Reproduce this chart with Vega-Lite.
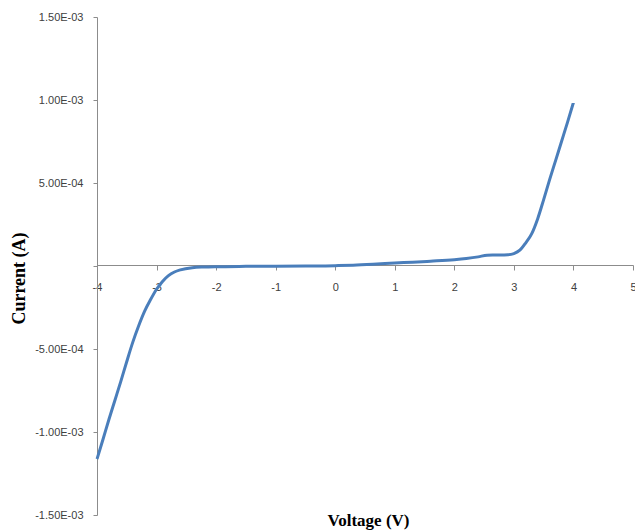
{
  "$schema": "https://vega.github.io/schema/vega-lite/v6.json",
  "width": 536,
  "height": 498,
  "autosize": "none",
  "padding": {"left": 97, "top": 17, "right": 2, "bottom": 15},
  "background": "white",
  "config": {"view": {"stroke": null}},
  "data": {"values": [
    {"v": -4.0, "i": -0.001163},
    {"v": -3.9, "i": -0.001045},
    {"v": -3.8, "i": -0.000925},
    {"v": -3.7, "i": -0.00081},
    {"v": -3.6, "i": -0.000695},
    {"v": -3.5, "i": -0.000575},
    {"v": -3.4, "i": -0.00046},
    {"v": -3.3, "i": -0.00036},
    {"v": -3.2, "i": -0.000272},
    {"v": -3.1, "i": -0.000202},
    {"v": -3.0, "i": -0.00014},
    {"v": -2.9, "i": -0.000093},
    {"v": -2.8, "i": -0.000058},
    {"v": -2.7, "i": -0.000036},
    {"v": -2.6, "i": -0.000023},
    {"v": -2.4, "i": -0.00001},
    {"v": -2.2, "i": -0.000006},
    {"v": -2.0, "i": -0.000004},
    {"v": -1.5, "i": -0.000002},
    {"v": -1.0, "i": -0.000001},
    {"v": -0.5, "i": 0.0},
    {"v": 0.0, "i": 0.000002},
    {"v": 0.3, "i": 0.000005},
    {"v": 0.7, "i": 0.000012},
    {"v": 1.0, "i": 0.000018},
    {"v": 1.3, "i": 0.000023},
    {"v": 1.6, "i": 0.000029},
    {"v": 2.0, "i": 0.000038},
    {"v": 2.2, "i": 0.000045},
    {"v": 2.4, "i": 0.000055},
    {"v": 2.55, "i": 0.000065},
    {"v": 2.7, "i": 0.000066},
    {"v": 2.9, "i": 0.000068},
    {"v": 3.0, "i": 0.000075},
    {"v": 3.1, "i": 0.000095},
    {"v": 3.2, "i": 0.00014},
    {"v": 3.3, "i": 0.000195},
    {"v": 3.4, "i": 0.000285},
    {"v": 3.5, "i": 0.0004},
    {"v": 3.6, "i": 0.00052},
    {"v": 3.7, "i": 0.000635},
    {"v": 3.8, "i": 0.00075},
    {"v": 3.9, "i": 0.000865},
    {"v": 4.0, "i": 0.000985}
  ]},
  "mark": {"type": "line", "color": "#4a7ebb", "strokeWidth": 3, "interpolate": "monotone", "clip": false},
  "encoding": {
    "x": {
      "field": "v", "type": "quantitative",
      "scale": {"domain": [-4, 5], "nice": false, "zero": false},
      "axis": {
        "title": "Voltage (V)",
        "orient": "bottom",
        "offset": -250,
        "values": [-4, -3, -2, -1, 0, 1, 2, 3, 4, 5],
        "labelExpr": "'' + datum.value",
        "labelFlush": false,
        "labelOverlap": false,
        "grid": false,
        "domainColor": "#8c8c8c",
        "tickColor": "#8c8c8c",
        "tickSize": 5,
        "labelPadding": 11,
        "labelFont": "Liberation Sans",
        "labelFontSize": 11,
        "labelColor": "#404040",
        "titleFont": "Liberation Serif",
        "titleFontWeight": "bold",
        "titleFontSize": 17,
        "titleColor": "#000000",
        "titleY": 247,
        "titleX": 271,
        "titleBaseline": "top"
      }
    },
    "y": {
      "field": "i", "type": "quantitative",
      "scale": {"domain": [-0.0015, 0.0015], "nice": false, "zero": false},
      "axis": {
        "title": "Current (A)",
        "values": [-0.0015, -0.001, -0.0005, 0, 0.0005, 0.001, 0.0015],
        "labelExpr": "datum.value == 0 ? '' : (datum.value < 0 ? '-' : '') + replace(format(abs(datum.value), '.2e'), 'e-', 'E-0')",
        "labelFlush": false,
        "labelOverlap": false,
        "grid": false,
        "domainColor": "#8c8c8c",
        "tickColor": "#8c8c8c",
        "tickSize": 4,
        "labelPadding": 10,
        "labelFont": "Liberation Sans",
        "labelFontSize": 11,
        "labelColor": "#404040",
        "titleFont": "Liberation Serif",
        "titleFontWeight": "bold",
        "titleFontSize": 18,
        "titleColor": "#000000",
        "titleX": -73,
        "titleY": 261,
        "titleBaseline": "alphabetic"
      }
    }
  }
}
